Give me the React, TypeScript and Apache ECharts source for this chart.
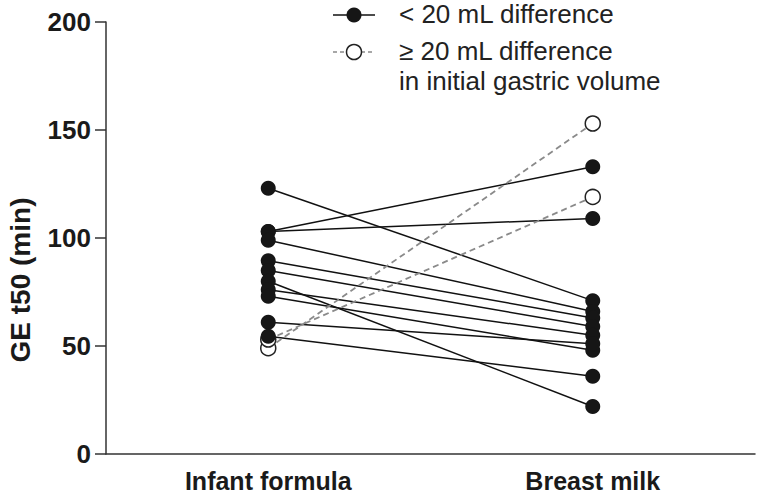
import React, { useEffect, useRef } from "react";
import * as echarts from "echarts";

const categories = ["Infant formula", "Breast milk"];
// subjects with < 20 mL difference: [infant formula, breast milk]
const solidFormula = [123, 103, 103, 99, 89.5, 85, 80, 76, 73, 61, 54.5];
const solidMilk = [71, 133, 109, 66, 63, 59, 22, 55, 48, 51, 36];
// subjects with >= 20 mL difference
const openFormula = [49, 53];
const openMilk = [153, 119];
const yTicks = [0, 50, 100, 150, 200];

const FONT = "'Liberation Sans', Arial, Helvetica, sans-serif";

export default function App() {
  const ref = useRef<HTMLDivElement>(null);
  useEffect(() => {
    if (!ref.current) return;
    const chart = echarts.init(ref.current, undefined, { renderer: "svg" });
    const series: any[] = [];
    solidFormula.forEach((v, i) => {
      series.push({
        type: "line",
        data: [v, solidMilk[i]],
        showSymbol: false,
        symbol: "none",
        lineStyle: { color: "#111", width: 1.5 },
        z: 2,
        silent: true,
      });
    });
    openFormula.forEach((v, i) => {
      series.push({
        type: "line",
        data: [v, openMilk[i]],
        showSymbol: false,
        symbol: "none",
        lineStyle: { color: "#8a8a8a", width: 1.8, type: [6, 4] },
        z: 2,
        silent: true,
      });
    });
    const openPts: any[] = [];
    openFormula.forEach((v, i) => {
      openPts.push([0, v]);
      openPts.push([1, openMilk[i]]);
    });
    const solidPts: any[] = [];
    solidFormula.forEach((v, i) => {
      solidPts.push([0, v]);
      solidPts.push([1, solidMilk[i]]);
    });
    series.push({
      type: "scatter",
      data: openPts,
      symbol: "circle",
      symbolSize: 15,
      itemStyle: { color: "#fff", borderColor: "#222", borderWidth: 1.5, opacity: 1 },
      z: 3,
      silent: true,
    });
    series.push({
      type: "scatter",
      data: solidPts,
      symbol: "circle",
      symbolSize: 15,
      itemStyle: { color: "#161616", opacity: 1 },
      z: 4,
      silent: true,
    });

    chart.setOption({
      animation: false,
      grid: { left: 106, right: 2, top: 22, bottom: 45 },
      xAxis: {
        type: "category",
        data: categories,
        boundaryGap: true,
        axisLine: { lineStyle: { color: "#333", width: 1.5 } },
        axisTick: { alignWithLabel: true, length: 12, lineStyle: { color: "#333", width: 1.5 } },
        axisLabel: { color: "#1a1a1a", fontSize: 25, fontWeight: "bold", fontFamily: FONT, margin: 14 },
        splitLine: { show: false },
      },
      yAxis: {
        type: "value",
        min: yTicks[0],
        max: yTicks[yTicks.length - 1],
        interval: 50,
        axisLine: { show: true, lineStyle: { color: "#333", width: 1.5 } },
        axisTick: { show: true, length: 11, lineStyle: { color: "#333", width: 1.5 } },
        axisLabel: { color: "#1a1a1a", fontSize: 26, fontWeight: "bold", fontFamily: FONT, margin: 15 },
        splitLine: { show: false },
      },
      graphic: [
        {
          type: "text",
          x: 20,
          y: 280,
          rotation: Math.PI / 2,
          style: {
            text: "GE t50 (min)",
            fill: "#1a1a1a",
            font: `bold 28px ${FONT}`,
            textAlign: "center",
            textVerticalAlign: "middle",
          },
        },
        { type: "line", shape: { x1: 333, y1: 15, x2: 375, y2: 15 }, style: { stroke: "#111", lineWidth: 1.5 } },
        { type: "circle", shape: { cx: 354, cy: 15, r: 7.5 }, style: { fill: "#161616" } },
        {
          type: "text",
          x: 399,
          y: 14,
          style: { text: "< 20 mL difference", fill: "#222", font: `26px ${FONT}`, textVerticalAlign: "middle" },
        },
        {
          type: "line",
          shape: { x1: 333, y1: 52, x2: 375, y2: 52 },
          style: { stroke: "#8a8a8a", lineWidth: 1.5, lineDash: [4, 3] },
        },
        {
          type: "circle",
          shape: { cx: 354, cy: 52, r: 7.5 },
          style: { fill: "#fff", stroke: "#222", lineWidth: 1.5 },
        },
        {
          type: "text",
          x: 399,
          y: 51,
          style: { text: "≥ 20 mL difference", fill: "#222", font: `26px ${FONT}`, textVerticalAlign: "middle" },
        },
        {
          type: "text",
          x: 399,
          y: 81,
          style: { text: "in initial gastric volume", fill: "#222", font: `26px ${FONT}`, textVerticalAlign: "middle" },
        },
      ],
      series,
    });
    return () => chart.dispose();
  }, []);
  return <div ref={ref} style={{ width: 757, height: 499, position: "fixed", left: 0, top: 0, background: "#fff" }} />;
}
